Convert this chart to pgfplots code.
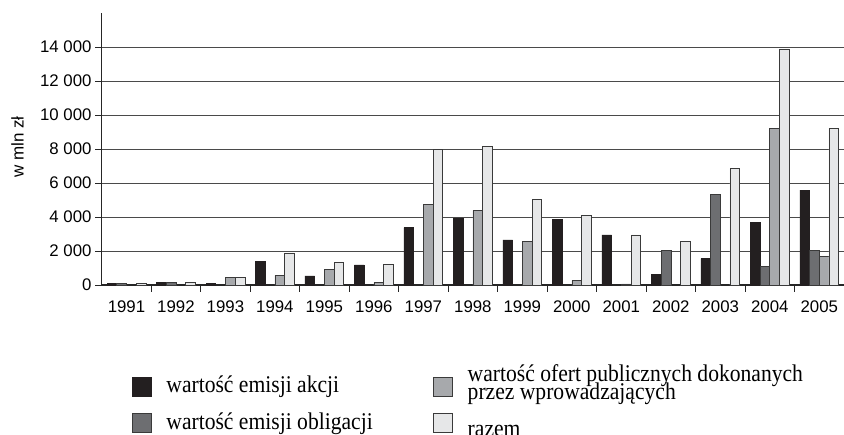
\documentclass[border=0pt]{standalone}
\usepackage{fontspec}
\setmainfont{Liberation Sans}
\newfontfamily\legfont[FakeStretch=0.9]{Liberation Serif}
\usepackage{pgfplots}
\pgfplotsset{compat=1.18}
\definecolor{cA}{HTML}{231F20}
\definecolor{cB}{HTML}{6D6E71}
\definecolor{cC}{HTML}{A7A9AC}
\definecolor{cD}{HTML}{E6E7E8}
\definecolor{edge}{HTML}{3A3A3A}
\definecolor{gridc}{HTML}{4A4A4A}
\newcommand{\lt}[2]{\raisebox{#1}[0pt][0pt]{#2}}
\begin{document}
\begin{tikzpicture}
\begin{axis}[
  name=ax,
  scale only axis, width=742.3pt, height=272pt,
  ybar=0pt, bar width=9.7pt,
  xmin=-0.5, xmax=14.5, ymin=0, ymax=16000, enlargelimits=false,
  axis x line*=bottom, axis y line*=left,
  axis line style={draw=black!85, line width=1.2pt},
  xtick={0.5,1.5,...,13.5}, xticklabels={},
  extra x ticks={0,1,2,3,4,5,6,7,8,9,10,11,12,13,14},
  extra x tick labels={1991,1992,1993,1994,1995,1996,1997,1998,1999,2000,2001,2002,2003,2004,2005},
  extra x tick style={major tick length=0pt, xticklabel style={yshift=-12pt}},
  ytick={0,2000,4000,6000,8000,10000,12000,14000},
  scaled y ticks=false,
  tick align=outside, major tick length=6.7pt,
  tick style={draw=black!85, line width=1pt},
  ymajorgrids, grid style={draw=gridc, line width=1pt},
  /pgf/number format/assume math mode=true,
  /pgf/number format/1000 sep={\ },
  tick label style={font=\fontsize{16.8}{19}\selectfont},
  ylabel={w mln zł},
  ylabel style={font=\fontsize{17}{20}\selectfont, at={(axis description cs:-0.1134,0.507)}, anchor=center},
  legend columns=2, transpose legend,
  legend cell align=left,
  legend style={at={(axis description cs:0.0403,-0.3393)}, anchor=north west,
    draw=none, fill=none, inner sep=0pt, outer sep=0pt,
    row sep=15.2pt, column sep=0pt,
    font=\legfont\fontsize{24}{18.3}\selectfont,
    nodes={inner sep=0pt}},
  legend image code/.code={\draw[#1, line width=0.8pt] (0pt,0pt) rectangle (19.5pt,19pt);},
]
\addplot[fill=cA, draw=cA, line width=0.6pt] coordinates {(0,110) (1,140) (2,100) (3,1400) (4,530) (5,1180) (6,3380) (7,3950) (8,2650) (9,3870) (10,2950) (11,610) (12,1550) (13,3670) (14,5580)};
\addplot[fill=cB, draw=edge, line width=0.6pt] coordinates {(0,110) (1,140) (11,2020) (12,5340) (13,1080) (14,2040)};
\addplot[fill=cC, draw=edge, line width=0.6pt] coordinates {(2,430) (3,570) (4,920) (5,160) (6,4720) (7,4380) (8,2550) (9,255) (10,60) (13,9210) (14,1690)};
\addplot[fill=cD, draw=edge, line width=0.6pt] coordinates {(0,110) (1,150) (2,430) (3,1890) (4,1340) (5,1220) (6,7980) (7,8150) (8,5050) (9,4110) (10,2950) (11,2570) (12,6840) (13,13890) (14,9230)};
\addlegendentry{\lt{3.0pt}{\makebox[281pt][l]{\hspace*{14.5pt}wartość emisji akcji}}}
\addlegendentry{\lt{2.0pt}{\makebox[281pt][l]{\hspace*{14.5pt}wartość emisji obligacji}}}
\addlegendentry{\lt{14.7pt}{\hspace*{14.5pt}\parbox[t]{360pt}{\baselineskip=18.3pt\lineskiplimit=-30pt wartość ofert publicznych dokonanych\\przez wprowadzających}}}
\addlegendentry{\lt{-5.5pt}{\hspace*{14.5pt}razem}}
\end{axis}
\pgfresetboundingbox
\path[use as bounding box] ([xshift=-101.7pt,yshift=-149pt]ax.south west) rectangle ([yshift=13pt]ax.north east);
\end{tikzpicture}
\end{document}
